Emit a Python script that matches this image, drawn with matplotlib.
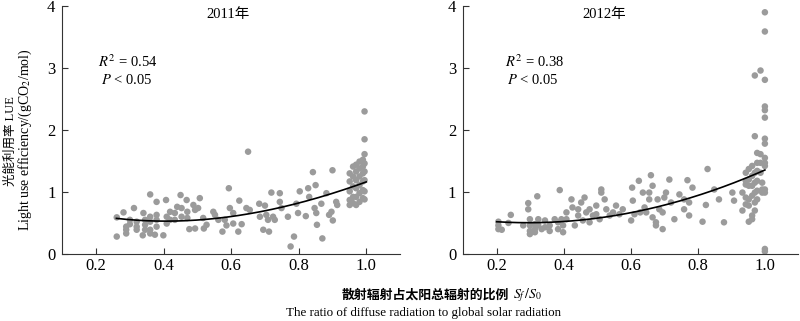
import matplotlib
matplotlib.use('Agg')
import matplotlib.pyplot as plt
import numpy as np

plt.rcParams['font.family'] = ['Liberation Serif', 'Noto Sans CJK SC']
plt.rcParams['mathtext.fontset'] = 'stix'

# 2011: (diffuse fraction, LUE)
points_2011 = [
    (0.261, 0.59), (0.261, 0.28), (0.281, 0.67), (0.289, 0.44), (0.289, 0.39), (0.289, 0.33),
    (0.30, 0.55), (0.30, 0.48), (0.312, 0.74), (0.32, 0.52), (0.32, 0.44), (0.32, 0.39),
    (0.338, 0.30), (0.34, 0.66), (0.345, 0.55), (0.345, 0.47), (0.345, 0.39),
    (0.36, 0.96), (0.36, 0.60), (0.36, 0.52), (0.36, 0.39), (0.36, 0.33), (0.374, 0.31),
    (0.379, 0.84), (0.379, 0.63), (0.379, 0.55), (0.379, 0.44), (0.399, 0.30), (0.407, 0.87),
    (0.409, 0.60), (0.409, 0.49), (0.419, 0.68), (0.419, 0.55), (0.433, 0.66), (0.433, 0.55),
    (0.44, 0.76), (0.45, 0.95), (0.453, 0.74), (0.453, 0.60), (0.468, 0.87), (0.47, 0.68),
    (0.47, 0.58), (0.476, 0.40), (0.488, 0.79), (0.493, 0.41), (0.493, 0.71), (0.507, 0.90),
    (0.502, 0.74), (0.517, 0.58), (0.519, 0.41), (0.527, 0.47), (0.547, 0.68), (0.552, 0.63),
    (0.562, 0.55), (0.574, 0.36), (0.581, 0.55), (0.586, 0.46), (0.593, 1.06), (0.596, 0.74),
    (0.606, 0.66), (0.606, 0.49), (0.621, 0.36), (0.624, 0.86), (0.631, 0.48), (0.65, 1.65),
    (0.645, 0.74), (0.655, 0.71), (0.683, 0.81), (0.685, 0.60), (0.695, 0.39), (0.70, 0.78),
    (0.704, 0.63), (0.709, 0.55), (0.712, 0.36), (0.719, 0.99), (0.724, 0.60), (0.729, 0.55),
    (0.744, 0.98), (0.744, 0.84), (0.749, 0.74), (0.768, 0.60), (0.776, 0.12), (0.786, 0.28),
    (0.793, 0.81), (0.798, 0.66), (0.803, 1.01), (0.821, 0.61), (0.828, 1.06), (0.831, 0.92),
    (0.842, 1.32), (0.847, 0.74), (0.85, 1.11), (0.852, 0.66), (0.854, 0.47), (0.867, 0.81),
    (0.87, 0.25), (0.882, 0.98), (0.89, 0.63), (0.897, 0.68), (0.90, 1.35), (0.901, 0.54),
    (0.911, 0.84), (0.914, 0.79),
    (0.951, 1.30), (0.951, 1.17), (0.951, 1.01), (0.951, 0.87), (0.951, 0.79),
    (0.961, 1.41), (0.961, 1.25), (0.961, 1.09), (0.961, 0.92), (0.961, 0.82),
    (0.97, 1.44), (0.97, 1.33), (0.97, 1.19), (0.97, 1.06), (0.97, 0.92), (0.97, 0.79),
    (0.98, 1.49), (0.98, 1.38), (0.98, 1.25), (0.98, 1.11), (0.98, 0.98), (0.98, 0.84),
    (0.99, 1.52), (0.99, 1.41), (0.99, 1.30), (0.99, 1.17), (0.99, 1.03), (0.99, 0.90),
    (0.995, 2.30), (0.995, 1.85), (0.995, 1.61), (0.995, 1.46), (0.995, 1.33), (0.995, 1.19),
    (0.995, 1.01), (0.995, 0.88),
]
# points
curve_x_2011 = [0.26, 0.4, 0.6, 0.8, 1.0]
curve_y_2011 = [0.57, 0.54, 0.59, 0.83, 1.16]

points_2012 = [
    (0.205, 0.52), (0.205, 0.46), (0.205, 0.40), (0.215, 0.39), (0.235, 0.50), (0.242, 0.63),
    (0.279, 0.46), (0.294, 0.82), (0.294, 0.72), (0.299, 0.56), (0.299, 0.46), (0.299, 0.37),
    (0.299, 0.32), (0.314, 0.48), (0.314, 0.40), (0.314, 0.35), (0.321, 0.93), (0.324, 0.56),
    (0.324, 0.46), (0.334, 0.40), (0.344, 0.54), (0.344, 0.43), (0.358, 0.46), (0.358, 0.37),
    (0.373, 0.56), (0.383, 0.51), (0.383, 0.40), (0.388, 1.03), (0.393, 0.56), (0.398, 0.46),
    (0.398, 0.35), (0.408, 0.67), (0.408, 0.56), (0.423, 0.88), (0.426, 0.75), (0.433, 0.46),
    (0.443, 0.72), (0.443, 0.62), (0.452, 0.83), (0.457, 0.54), (0.462, 0.91), (0.467, 0.67),
    (0.477, 0.51), (0.477, 0.72), (0.487, 0.62), (0.497, 0.78), (0.497, 0.64), (0.507, 0.56),
    (0.512, 1.04), (0.512, 0.99), (0.522, 0.88), (0.527, 0.72), (0.537, 0.62), (0.547, 0.67),
    (0.556, 0.78), (0.566, 0.64), (0.576, 0.72), (0.601, 0.54), (0.604, 1.07), (0.606, 0.86),
    (0.611, 0.64), (0.624, 1.18), (0.628, 0.67), (0.636, 0.99), (0.641, 0.75), (0.646, 0.67),
    (0.655, 0.99), (0.655, 0.88), (0.66, 1.27), (0.665, 1.10), (0.665, 0.59), (0.675, 0.51),
    (0.675, 0.46), (0.68, 0.88), (0.685, 0.72), (0.695, 0.67), (0.695, 0.40), (0.70, 0.91),
    (0.705, 0.99), (0.715, 1.20), (0.72, 0.83), (0.73, 0.56), (0.745, 0.96), (0.759, 0.88),
    (0.759, 0.72), (0.769, 1.19), (0.774, 0.83), (0.774, 0.62), (0.784, 1.07), (0.814, 0.52),
    (0.824, 0.79), (0.829, 1.37), (0.849, 1.04), (0.863, 0.88), (0.878, 0.51), (0.903, 0.99),
    (0.908, 0.86), (0.933, 0.99), (0.933, 0.70),
    (0.943, 1.31), (0.943, 1.18), (0.943, 1.12), (0.943, 0.91), (0.943, 0.80),
    (0.952, 1.37), (0.952, 1.20), (0.952, 1.10), (0.952, 0.88), (0.952, 0.78), (0.952, 0.52),
    (0.962, 1.42), (0.962, 1.26), (0.962, 1.10), (0.962, 0.94), (0.962, 0.62), (0.962, 0.56),
    (0.97, 2.88), (0.97, 1.90), (0.97, 1.31), (0.97, 1.15), (0.97, 0.99), (0.97, 0.83),
    (0.97, 0.70), (0.977, 1.63), (0.977, 1.47), (0.977, 1.34), (0.977, 1.18), (0.977, 1.02),
    (0.977, 0.88), (0.987, 2.96), (0.987, 1.61), (0.987, 1.47), (0.987, 1.31),
    (0.992, 1.15), (0.992, 1.04), (0.992, 0.99),
    (1.0, 3.90), (1.0, 3.59), (1.0, 2.81), (1.0, 2.38), (1.0, 2.32), (1.0, 2.20), (1.0, 1.86),
    (1.0, 1.78), (1.0, 1.55), (1.0, 1.47), (1.0, 1.42), (1.0, 1.04), (1.0, 0.99), (1.0, 0.08),
    (1.0, 0.04),
]
curve_x_2012 = [0.2, 0.4, 0.6, 0.8, 1.0]
curve_y_2012 = [0.52, 0.52, 0.67, 0.94, 1.355]

panels = [
    ('2011年', points_2011, curve_x_2011, curve_y_2011, '0.54', 0.205, 0.59),
    ('2012年', points_2012, curve_x_2012, curve_y_2012, '0.38', 0.224, 0.52),
]

point_color = '#9b9b9b'

fig = plt.figure(figsize=(8, 3.21), dpi=100)
ax1 = fig.add_axes([0.078, 0.209, 0.422, 0.772])
ax2 = fig.add_axes([0.579, 0.209, 0.419, 0.772])

for ax, (title, pts, cx, cy, r2, tx, titlex) in zip([ax1, ax2], panels):
    xs = [p[0] for p in pts]
    ys = [p[1] for p in pts]
    ax.scatter(xs, ys, s=22, color=point_color, edgecolors='none', zorder=2)

    coef = np.polyfit(cx, cy, 3)
    xx = np.linspace(min(cx), max(cx), 200)
    ax.plot(xx, np.polyval(coef, xx), color='black', lw=1.2, zorder=3)

    ax.set_xlim(0.1, 1.1)
    ax.set_ylim(0, 4)
    ax.set_xticks([0.2, 0.4, 0.6, 0.8, 1.0])
    ax.set_xticklabels(['0.2', '0.4', '0.6', '0.8', '1.0'])
    ax.set_yticks([0, 1, 2, 3, 4])

    ax.spines['top'].set_visible(False)
    ax.spines['right'].set_visible(False)
    ax.spines['left'].set_color('#333333')
    ax.spines['bottom'].set_color('#333333')
    ax.tick_params(direction='in', length=4, width=0.8, labelsize=12,
                   color='#333333')
    ax.tick_params(axis='x', pad=3)
    ax.tick_params(axis='y', pad=5)

    ax.text(titlex, 3.87, title, ha='center', va='center', fontsize=10.5)
    ax.text(tx, 3.1, '$R^2$ = ' + r2, ha='left', va='center', fontsize=10.5)
    ax.text(tx + 0.008, 2.8, '$P$ < 0.05', ha='left', va='center', fontsize=10.5)

fig.text(0.014, 0.56, '光能利用率 LUE', rotation=90, ha='center', va='center',
         fontsize=9)
fig.text(0.032, 0.566, 'Light use efficiency/(gCO$_2$/mol)', rotation=90,
         ha='center', va='center', fontsize=10)

fig.text(0.636, 0.081, '散射辐射占太阳总辐射的比例', ha='right', va='center',
         fontsize=9.3, fontweight='bold', family='Noto Sans CJK SC')
fig.text(0.641, 0.081, '$S_f\\,/S_0$', ha='left', va='center', fontsize=10)
fig.text(0.53, 0.025, 'The ratio of diffuse radiation to global solar radiation',
         ha='center', va='center', fontsize=9.4)

fig.savefig('out.png', dpi=100)
